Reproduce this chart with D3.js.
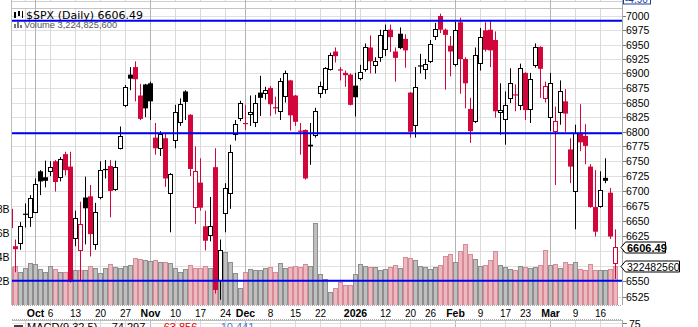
<!DOCTYPE html>
<html>
<head>
<meta charset="utf-8">
<script src="https://cdn.jsdelivr.net/npm/d3@7"></script>
<style>
  html, body { margin: 0; padding: 0; background: #fff; }
  svg { display: block; }
  text { font-family: "Liberation Sans", Arial, sans-serif; }
</style>
</head>
<body>
<div id="chart"></div>
<script>
// trading calendar shown on the chart
const firstDay = '2025-09-24';
const lastDay = '2026-03-19';
const holidays = ['2025-11-27', '2025-12-25', '2026-01-01', '2026-01-19', '2026-02-16'];

// daily OHLC of $SPX
const open = [6670,6608,6614,6662,6656,6665,6733,6723,6734,6750,6724,6762,6741,6622,6602,6689,6691,6612,6690,6737,6742,6704,6773,6846,6898,6911,6862,6881,
  6883,6790,6772,6789,6697,6786,6817,6869,6829,6673,6714,6641,6626,6740,6553,6663,6697,6796,6824,
  6815,6830,6816,6867,6867,6875,6842,6835,6862,6888,6862,6802,6803,6778,6794,6866,6874,6907,6938,6907,6901,6898,
  6879,6892,6907,6945,6915,6928,6943,6976,6938,6969,6960,6867,6812,6914,6908,6922,6965,7000,6976,6948,
  6916,6989,6925,6839,6818,6918,6975,6976,6958,6834,6822,6857,6864,6845,6901,6839,6914,6946,6857,
  6826,6802,6833,6852,6770,6700,6798,6793,6741,6673,6675,6722,6697,6581];
const high = [6676,6619,6648,6679,6693,6721,6735,6751,6750,6752,6757,6766,6766,6667,6682,6724,6710,6680,6750,6752,6752,6751,6809,6880,6911,6921,6882,6882,
  6886,6815,6801,6798,6730,6846,6857,6871,6830,6775,6755,6667,6690,6772,6619,6713,6778,6820,6853,
  6846,6862,6863,6896,6877,6878,6860,6892,6905,6889,6863,6815,6804,6815,6841,6886,6911,6936,6945,6911,6905,6900,
  6901,6915,6952,6966,6928,6976,6985,6985,6945,6980,6968,6868,6911,6934,6925,6958,6988,7004,6978,6965,
  6990,6997,6928,6858,6945,6979,6989,6991,6973,6883,6869,6909,6881,6917,6902,6901,6952,6947,6886,
  6901,6843,6888,6873,6789,6812,6847,6813,6745,6735,6733,6755,6705,6636];
const low = [6630,6565,6602,6639,6640,6663,6693,6706,6725,6699,6716,6726,6548,6608,6551,6611,6591,6602,6686,6721,6656,6700,6770,6842,6871,6852,6820,6825,
  6820,6761,6759,6707,6631,6772,6810,6820,6725,6645,6667,6601,6616,6530,6520,6631,6670,6785,6818,
  6803,6810,6808,6827,6855,6827,6830,6820,6850,6802,6810,6761,6719,6744,6790,6858,6865,6905,6919,6888,6877,6845,
  6826,6888,6903,6900,6900,6920,6930,6937,6886,6942,6910,6790,6790,6900,6890,6918,6958,6970,6872,6895,
  6912,6865,6840,6781,6815,6905,6938,6911,6824,6795,6778,6849,6835,6837,6820,6815,6910,6858,6850,
  6801,6710,6812,6800,6713,6636,6767,6745,6672,6624,6672,6713,6620,6554];
const close = [6638,6603,6642,6661,6688,6712,6716,6717,6741,6715,6754,6735,6550,6655,6645,6671,6628,6664,6736,6737,6700,6740,6792,6876,6891,6890,6822,6840,
  6852,6772,6797,6721,6729,6833,6847,6851,6737,6734,6672,6617,6642,6536,6601,6705,6766,6813,6849,
  6813,6833,6850,6858,6872,6847,6841,6887,6901,6828,6817,6800,6721,6775,6835,6878,6910,6932,6930,6906,6897,6846,
  6859,6902,6945,6921,6922,6966,6975,6963,6927,6944,6940,6800,6876,6913,6916,6951,6977,6976,6967,6938,
  6976,6925,6883,6801,6932,6964,6941,6940,6835,6838,6845,6883,6862,6909,6837,6891,6945,6908,6878,
  6883,6818,6870,6831,6741,6798,6782,6776,6673,6632,6701,6717,6624,6606.49];
// daily volume, billions of shares
const volume = [3.2,3.28,2.78,3.06,3.47,3.39,2.97,2.78,3.25,2.97,2.78,2.72,2.64,2.9,2.92,2.92,3.25,3.06,2.64,3.1,3.39,3.2,3.1,3.28,3.33,3.89,3.8,3.72,
  3.7,3.78,3.58,3.58,3.5,3.06,2.72,2.97,3.33,3.06,3.1,3.25,3.1,4.2,4.55,4.4,3.6,2.64,1.39,
  2.72,3.0,2.92,2.92,3.05,3.14,2.72,3.47,3.05,3.14,3.25,3.14,3.39,3.25,6.8,2.56,2.17,1.06,1.39,1.89,1.67,1.67,
  2.56,3.39,3.25,3.14,3.14,2.92,3.0,3.14,3.33,3.05,3.97,3.89,3.75,3.25,3.14,3.0,3.14,3.33,4.08,4.22,
  3.56,4.53,5.08,4.25,3.8,3.28,3.36,3.75,4.5,3.36,3.14,3.0,2.92,3.28,3.14,3.08,3.14,3.36,4.58,
  3.36,3.42,3.08,3.58,3.42,3.58,2.97,2.89,3.42,2.92,2.89,2.92,3.0,3.2248256];

const priceTicks = [6525,6550,6575,6600,6625,6650,6675,6700,6725,6750,6775,6800,6825,6850,6875,6900,6925,6950,6975,7000];
const volumeTicks = [2, 4, 6, 8];
const dateLabels = [
  ['2025-10-01','Oct',true],['2025-10-06','6'],['2025-10-13','13'],['2025-10-20','20'],['2025-10-27','27'],
  ['2025-11-03','Nov',true],['2025-11-10','10'],['2025-11-17','17'],['2025-11-24','24'],
  ['2025-12-01','Dec',true],['2025-12-08','8'],['2025-12-15','15'],['2025-12-22','22'],
  ['2026-01-02','2026',true],['2026-01-12','12'],['2026-01-20','20'],['2026-01-26','26'],
  ['2026-02-02','Feb',true],['2026-02-09','9'],['2026-02-17','17'],['2026-02-23','23'],
  ['2026-03-02','Mar',true],['2026-03-09','9'],['2026-03-16','16']
];
// user drawn horizontal levels
const levels = [6991.8, 6797.5, 6551.2];

const dates = [];
for (let d = new Date(firstDay + 'T12:00:00Z'); d <= new Date(lastDay + 'T12:00:00Z'); d.setUTCDate(d.getUTCDate() + 1)) {
    const s = d.toISOString().slice(0, 10), wd = d.getUTCDay();
    if (wd > 0 && wd < 6 && !holidays.includes(s)) dates.push(s);
}

const bars = dates.map((date, i) => ({
    date, o: open[i], h: high[i], l: low[i], c: close[i], v: volume[i],
    prev: i ? close[i - 1] : open[i]
}));

const W = 698, H = 327;
const plot = { left: 12, right: 622, top: 8, bottom: 305 };
const RED = '#d2063a';

const svg = d3.select('#chart').append('svg').attr('width', W).attr('height', H);
svg.append('rect').attr('width', W).attr('height', H).attr('fill', '#fff');

const x = d3.scaleBand().domain(dates).range([7.5, 617.5]);
const cx = d => x(d) + x.bandwidth() / 2;
const y = d3.scaleLog().domain([6511.4, 7014.0]).range([plot.bottom, plot.top]);
const vy = d3.scaleLinear().domain([0, 24.75]).range([plot.bottom, plot.top]);

// week and month starts for vertical grid
const dow = s => new Date(s + 'T12:00:00Z').getUTCDay();
const weekStarts = dates.filter((s, i) => i > 0 && dow(s) < dow(dates[i - 1]));
const monthStarts = dates.filter((s, i) => i > 0 && s.slice(5, 7) !== dates[i - 1].slice(5, 7));

const grid = svg.append('g');
// piece of the panel above
grid.selectAll('line.vt').data(weekStarts).enter().append('line')
    .attr('x1', d => cx(d) + 0.5).attr('x2', d => cx(d) + 0.5).attr('y1', 0).attr('y2', 2)
    .attr('stroke', '#d6d6d6');
grid.append('line').attr('x1', plot.left).attr('x2', plot.right).attr('y1', 1.5).attr('y2', 1.5).attr('stroke', '#cfcfcf');

grid.selectAll('line.h').data(priceTicks).enter().append('line')
    .attr('x1', plot.left).attr('x2', plot.right)
    .attr('y1', d => Math.round(y(d)) + 0.5).attr('y2', d => Math.round(y(d)) + 0.5)
    .attr('stroke', '#e0e0e0');
grid.selectAll('line.w').data(weekStarts).enter().append('line')
    .attr('x1', d => cx(d) + 0.5).attr('x2', d => cx(d) + 0.5)
    .attr('y1', plot.top).attr('y2', plot.bottom)
    .attr('stroke', '#d9d9d9');
grid.selectAll('line.m').data(monthStarts).enter().append('line')
    .attr('x1', d => cx(d) + 0.5).attr('x2', d => cx(d) + 0.5)
    .attr('y1', 0).attr('y2', plot.bottom)
    .attr('stroke', '#b4b4b4');
grid.append('line').attr('x1', plot.left).attr('x2', plot.right).attr('y1', plot.top + 0.5).attr('y2', plot.top + 0.5).attr('stroke', '#c4c4c4');
grid.append('line').attr('x1', plot.left - 0.5).attr('x2', plot.left - 0.5).attr('y1', 0).attr('y2', plot.bottom).attr('stroke', '#bdbdbd');

svg.append('clipPath').attr('id', 'clip').append('rect')
    .attr('x', plot.left).attr('y', plot.top)
    .attr('width', plot.right - plot.left).attr('height', plot.bottom - plot.top);
const body = svg.append('g').attr('clip-path', 'url(#clip)');

// volume bars, coloured by close vs previous close
body.append('g').selectAll('rect').data(bars).enter().append('rect')
    .attr('x', d => cx(d.date) - 1.5)
    .attr('y', d => Math.round(vy(d.v)) + 0.5)
    .attr('width', 4)
    .attr('height', d => plot.bottom - Math.round(vy(d.v)))
    .attr('fill', d => d.c < d.prev ? '#ebbac1' : '#bfbfbf')
    .attr('stroke', d => d.c < d.prev ? '#d98a96' : '#8e8e8e')
    .attr('stroke-width', 1);

// candles: hollow when close > open, red when close < previous close
const candles = body.append('g').selectAll('g').data(bars).enter().append('g');
candles.append('line')
    .attr('x1', d => cx(d.date) + 0.5).attr('x2', d => cx(d.date) + 0.5)
    .attr('y1', d => y(d.h)).attr('y2', d => y(d.l))
    .attr('stroke', d => d.c < d.prev ? RED : '#000')
    .attr('stroke-width', 1);
candles.append('rect')
    .each(function(d) {
        const col = d.c < d.prev ? RED : '#000';
        const top = y(Math.max(d.o, d.c)), bot = y(Math.min(d.o, d.c));
        const sel = d3.select(this);
        if (d.c > d.o) {
            sel.attr('x', cx(d.date) - 1.5).attr('width', 4)
               .attr('y', Math.round(top) + 0.5).attr('height', Math.max(1, Math.round(bot) - Math.round(top)))
               .attr('fill', '#fff').attr('stroke', col).attr('stroke-width', 1);
        } else {
            sel.attr('x', cx(d.date) - 2).attr('width', 5)
               .attr('y', top).attr('height', Math.max(1.2, bot - top))
               .attr('fill', col);
        }
    });

// horizontal levels
svg.append('g').selectAll('line').data(levels).enter().append('line')
    .attr('x1', plot.left).attr('x2', plot.right)
    .attr('y1', d => y(d)).attr('y2', d => y(d))
    .attr('stroke', '#0000f0').attr('stroke-width', 2);

// legend
const leg = svg.append('g');
leg.append('rect').attr('x', 14).attr('y', 12).attr('width', 2).attr('height', 6).attr('fill', '#000');
leg.append('rect').attr('x', 18).attr('y', 11).attr('width', 2).attr('height', 5).attr('fill', '#000');
leg.append('line').attr('x1', 22.5).attr('x2', 22.5).attr('y1', 11).attr('y2', 18).attr('stroke', '#000');
leg.append('text').attr('x', 26).attr('y', 18.5)
    .style('font-family', '"DejaVu Sans", Verdana, sans-serif').style('font-size', '11px').attr('fill', '#000')
    .text('$SPX (Daily) ' + d3.format('.2f')(close[close.length - 1]));
[[14, 24], [17, 22], [20, 25]].forEach(([bx, by]) =>
    leg.append('rect').attr('x', bx).attr('y', by).attr('width', 2).attr('height', 28 - by).attr('fill', '#777'));
leg.append('text').attr('x', 24).attr('y', 28.3)
    .style('font-size', '9.3px').attr('fill', '#555')
    .text('Volume ' + d3.format(',')(Math.round(volume[volume.length - 1] * 1e9)));

// last value boxes sit over the axis; labels they would cover are left out
const priceBoxY = Math.round(y(close[close.length - 1])) + 0.5;
const volBoxY = Math.round(vy(volume[volume.length - 1])) + 0.5;
const hidden = t => [priceBoxY, volBoxY].some(b => Math.abs(y(t) - b) < 10);

// right price axis
const axis = svg.append('g');
axis.append('line').attr('x1', plot.right + 0.5).attr('x2', plot.right + 0.5).attr('y1', 0).attr('y2', plot.bottom)
    .attr('stroke', '#a8a8a8');
axis.selectAll('line.t').data(priceTicks).enter().append('line')
    .attr('x1', plot.right + 1).attr('x2', plot.right + 4)
    .attr('y1', d => Math.round(y(d)) + 0.5).attr('y2', d => Math.round(y(d)) + 0.5)
    .attr('stroke', '#777');
axis.selectAll('text').data(priceTicks.filter(t => !hidden(t))).enter().append('text')
    .attr('x', plot.right + 4).attr('y', d => y(d) + 4)
    .style('font-size', '10.5px').attr('fill', '#000')
    .text(d => d);

// left volume labels
svg.append('g').selectAll('text').data(volumeTicks).enter().append('text')
    .attr('x', 9.5).attr('y', d => vy(d) + 4)
    .attr('text-anchor', 'end').style('font-size', '10.5px').attr('fill', '#000')
    .text(d => d + 'B');

// date axis
const dax = svg.append('g');
dax.append('line').attr('x1', plot.left).attr('x2', plot.right).attr('y1', 305.5).attr('y2', 305.5)
    .attr('stroke', '#aaa').attr('stroke-dasharray', '1,1');
dax.append('line').attr('x1', plot.left).attr('x2', plot.right).attr('y1', 319.5).attr('y2', 319.5)
    .attr('stroke', '#aaa').attr('stroke-dasharray', '1,1');
dax.selectAll('text').data(dateLabels).enter().append('text')
    .attr('x', d => cx(d[0]) + 0.5).attr('y', 316.5)
    .attr('text-anchor', 'middle')
    .style('font-size', d => d[2] ? '10.5px' : '10px')
    .style('font-weight', d => d[2] ? 'bold' : 'normal')
    .attr('fill', '#000')
    .text(d => d[1]);

// top of the MACD panel
const macd = svg.append('g');
macd.append('line').attr('x1', plot.left).attr('x2', plot.right).attr('y1', 320.5).attr('y2', 320.5).attr('stroke', '#bbb');
macd.selectAll('line.w').data(weekStarts).enter().append('line')
    .attr('x1', d => cx(d) + 0.5).attr('x2', d => cx(d) + 0.5).attr('y1', 321).attr('y2', H)
    .attr('stroke', d => monthStarts.includes(d) ? '#b4b4b4' : '#d9d9d9');
macd.append('line').attr('x1', plot.left).attr('x2', plot.right).attr('y1', 323.5).attr('y2', 323.5).attr('stroke', '#e0e0e0');
macd.append('line').attr('x1', plot.right + 0.5).attr('x2', plot.right + 0.5).attr('y1', 320).attr('y2', H).attr('stroke', '#a8a8a8');
macd.append('line').attr('x1', plot.right + 1).attr('x2', plot.right + 5).attr('y1', 323.5).attr('y2', 323.5).attr('stroke', '#777');
macd.append('text').attr('x', plot.right + 7).attr('y', 327.5).style('font-size', '10.5px').text('75');
macd.append('line').attr('x1', 14).attr('x2', 23).attr('y1', 326).attr('y2', 326).attr('stroke', '#000').attr('stroke-width', 1.5);
[['MACD(9,32,5)', 27, '#000'], ['-74.297', 108, '#000'], ['-63.856', 160, '#e00000'], ['-10.441', 217, '#3a7fd0']]
    .forEach(([t, tx, col]) => macd.append('text').attr('x', tx).attr('y', 330.5)
        .style('font-size', '11px').attr('fill', col).text(t));

// last value boxes on the right
function valueBox(yy, label, bold, w) {
    const g = svg.append('g');
    g.append('path')
        .attr('d', `M${plot.right - 1},${yy} L${plot.right + 3.5},${yy - 5.5} H${plot.right + 3.5 + w} V${yy + 5.5} H${plot.right + 3.5} Z`)
        .attr('fill', '#fff').attr('stroke', '#000').attr('stroke-width', 1);
    g.append('text').attr('x', plot.right + 5).attr('y', yy + 4)
        .style('font-size', bold ? '11px' : '10.5px').style('font-weight', bold ? 'bold' : 'normal')
        .text(label);
}
valueBox(priceBoxY, d3.format('.2f')(close[close.length - 1]), true, 40);
valueBox(volBoxY, '322482560', false, 54);

// bottom of the indicator box from the panel above
svg.append('rect').attr('x', 623.5).attr('y', -8).attr('width', 27).attr('height', 12)
    .attr('fill', '#fff').attr('stroke', '#1f3f9f');
svg.append('text').attr('x', 625).attr('y', 2.5).style('font-size', '10px').attr('fill', '#1f3f9f').text('-4.90');
</script>
</body>
</html>
